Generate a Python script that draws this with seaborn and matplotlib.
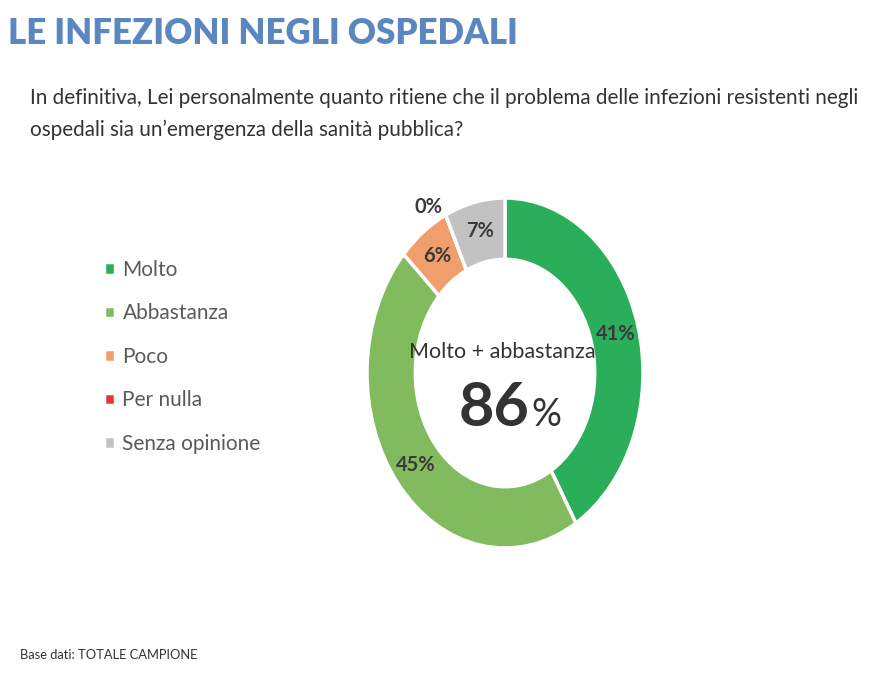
import numpy as np
import matplotlib.pyplot as plt
import seaborn as sns

# =====================================
# Data
# =====================================

categories = ["Molto", "Abbastanza", "Poco", "Per nulla", "Senza opinione"]
values = [41, 45, 6, 0, 7]
colors = ["#2bae59", "#81bb5e", "#f09e6b", "#e8343d", "#c2c2c2"]
total_label = "86"

sns.set_theme(style="white")
plt.rcParams['font.family'] = ['Lato', 'DejaVu Sans']

W, H = 888, 675
fig = plt.figure(figsize=(W / 100, H / 100), dpi=100)

# donut axes: ellipse centre (505, 373), radii 138 x 175 px
cx, cy, rx, ry = 505, 373, 138, 175
lim = 1.3
ax = fig.add_axes([(cx - lim * rx) / W, (H - cy - lim * ry) / H,
                   2 * lim * rx / W, 2 * lim * ry / H])

wedges, _ = ax.pie(values, colors=colors, startangle=90, counterclock=False,
                   wedgeprops=dict(width=0.35, edgecolor="white", linewidth=2.5))
ax.set_aspect("auto")
ax.set_xlim(-lim, lim)
ax.set_ylim(-lim, lim)
ax.axis("off")

# percentage labels
for w, v in zip(wedges, values):
    ang = np.deg2rad((w.theta1 + w.theta2) / 2)
    if v > 0:
        ax.text(0.83 * np.cos(ang), 0.83 * np.sin(ang), f"{v}%", ha="center", va="center",
                fontsize=14.5, fontweight="bold", color="#3a3a3a")
    else:
        ax.text(1.05 * np.cos(ang), 1.05 * np.sin(ang), f"{v}%", ha="right", va="center",
                fontsize=14.5, fontweight="bold", color="#3a3a3a")

# centre text
ax.text(-0.02, 0.12, "Molto + abbastanza", ha="center", va="center",
        fontsize=15.5, color="#333333")
ax.text(0.18, -0.3, total_label, ha="right", va="baseline",
        fontsize=44, fontweight="bold", color="#333333")
ax.text(0.19, -0.3, "%", ha="left", va="baseline",
        fontsize=27, color="#333333")

# legend
fig.legend(wedges, categories, loc="upper left", bbox_to_anchor=(85 / W, 1 - 241 / H),
           frameon=False, fontsize=15, labelcolor="#5a5a5a",
           handlelength=0.55, handleheight=0.55, handletextpad=0.35,
           labelspacing=1.13)

# titles
fig.text(8 / W, 1 - 33 / H, "LE INFEZIONI NEGLI OSPEDALI", ha="left", va="center",
         fontsize=25, fontweight="heavy", color="#5b87c1")
fig.text(30 / W, 1 - 98 / H,
         "In definitiva, Lei personalmente quanto ritiene che il problema delle infezioni resistenti negli",
         ha="left", va="center", fontsize=14.9, color="#333333")
fig.text(30 / W, 1 - 130 / H, "ospedali sia un\u2019emergenza della sanit\u00e0 pubblica?",
         ha="left", va="center", fontsize=14.9, color="#333333")
fig.text(20 / W, 1 - 655 / H, "Base dati: TOTALE CAMPIONE", ha="left", va="center",
         fontsize=9.3, color="#333333")

fig.savefig("out.png", dpi=100)
